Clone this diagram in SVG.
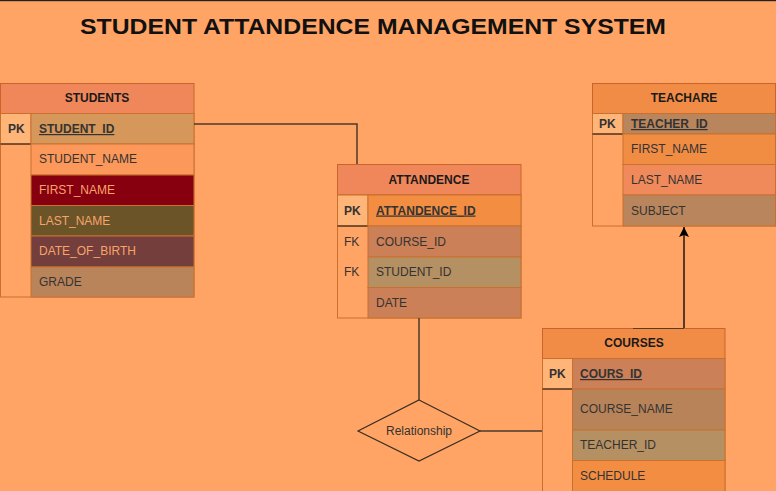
<svg xmlns="http://www.w3.org/2000/svg" width="776" height="491" viewBox="0 0 776 491">
<defs>
<style>
.bg{fill:#FFA464}
.hdr{stroke:#C9652A;stroke-width:1}
.row{stroke:#C9702F;stroke-width:1}
.ht{font-family:"Liberation Sans",Arial,sans-serif;font-size:12px;font-weight:bold;fill:#1a1a1a;text-anchor:middle}
.t{font-family:"Liberation Sans",Arial,sans-serif;font-size:12px;fill:#333}
.tl{font-family:"Liberation Sans",Arial,sans-serif;font-size:12px;fill:#F7A46C}
.k{font-family:"Liberation Sans",Arial,sans-serif;font-size:12px;fill:#333}
.kb{font-family:"Liberation Sans",Arial,sans-serif;font-size:12px;font-weight:bold;fill:#333}
.pk{font-family:"Liberation Sans",Arial,sans-serif;font-size:12px;font-weight:bold;fill:#333;text-decoration:underline}
.conn{fill:none;stroke:#4a3b2e;stroke-width:1.5}
</style>
<marker id="arr" markerWidth="10" markerHeight="10" refX="10" refY="5" orient="auto" markerUnits="userSpaceOnUse" viewBox="0 0 10 10">
<path d="M10,5 L0,0 L2,5 L0,10 Z" fill="#000"/>
</marker>
</defs>
<rect class="bg" x="0" y="0" width="776" height="491"/>
<rect x="0" y="0" width="776" height="1.2" fill="#222"/>
<text x="373" y="34" font-family="Liberation Sans,Arial,sans-serif" font-size="22" font-weight="bold" fill="#111" text-anchor="middle" textLength="586" lengthAdjust="spacingAndGlyphs">STUDENT ATTANDENCE MANAGEMENT SYSTEM</text>

<g id="students">
<rect x="0.5" y="83.5" width="193.5" height="30" fill="#F0875A" class="hdr"/>
<text class="ht" x="97" y="102">STUDENTS</text>
<rect x="0.5" y="113.5" width="193.5" height="183.5" fill="#FFA464" class="row"/>
<rect x="0.5" y="113.5" width="30.5" height="30.5" fill="#FFB478" class="row"/>
<line x1="0.5" y1="144" x2="31" y2="144" stroke="#111" stroke-width="1"/>
<text class="kb" x="8" y="133">PK</text>
<rect x="31" y="113.5" width="163" height="30.5" fill="#D5975A" class="row"/>
<text class="pk" x="39" y="133">STUDENT_ID</text>
<rect x="31" y="144" width="163" height="31" fill="#FC985A" class="row"/>
<text class="t" x="39" y="163">STUDENT_NAME</text>
<rect x="31" y="175" width="163" height="30.5" fill="#870010" class="row"/>
<text class="tl" x="39" y="194">FIRST_NAME</text>
<rect x="31" y="205.5" width="163" height="30.5" fill="#6B5428" class="row"/>
<text class="tl" x="39" y="224.5">LAST_NAME</text>
<rect x="31" y="236" width="163" height="31" fill="#733E3B" class="row"/>
<text class="tl" x="39" y="255">DATE_OF_BIRTH</text>
<rect x="31" y="267" width="163" height="30" fill="#BA845A" class="row"/>
<text class="t" x="39" y="286">GRADE</text>
</g>

<g id="attandence">
<rect x="337.5" y="164.5" width="183.5" height="30.5" fill="#F0875A" class="hdr"/>
<text class="ht" x="429" y="184">ATTANDENCE</text>
<rect x="337.5" y="195" width="183.5" height="123" fill="#FFA464" class="row"/>
<rect x="337.5" y="195" width="30.5" height="31" fill="#FFB478" class="row"/>
<line x1="337.5" y1="226" x2="368" y2="226" stroke="#111" stroke-width="1"/>
<text class="kb" x="344" y="214.5">PK</text>
<rect x="368" y="195" width="153" height="31" fill="#F28D42" class="row"/>
<text class="pk" x="376" y="214.5">ATTANDENCE_ID</text>
<rect x="368" y="226" width="153" height="31" fill="#CB8058" class="row"/>
<text class="k" x="344" y="245.5">FK</text>
<text class="t" x="376" y="245.5">COURSE_ID</text>
<rect x="368" y="257" width="153" height="30.5" fill="#B59063" class="row"/>
<text class="k" x="344" y="276">FK</text>
<text class="t" x="376" y="276">STUDENT_ID</text>
<rect x="368" y="287.5" width="153" height="30.5" fill="#CB8058" class="row"/>
<text class="t" x="376" y="306.5">DATE</text>
</g>

<g id="teachare">
<rect x="592.5" y="83.5" width="183" height="30" fill="#F08C46" class="hdr"/>
<text class="ht" x="684" y="102">TEACHARE</text>
<rect x="592.5" y="113.5" width="183" height="112.5" fill="#FFA464" class="row"/>
<rect x="592.5" y="113.5" width="30.5" height="20.5" fill="#FFB478" class="row"/>
<line x1="592.5" y1="134" x2="623" y2="134" stroke="#111" stroke-width="1"/>
<text class="kb" x="599" y="128">PK</text>
<rect x="623" y="113.5" width="152.5" height="20.5" fill="#B9855C" class="row"/>
<text class="pk" x="631" y="128">TEACHER_ID</text>
<rect x="623" y="134" width="152.5" height="30.5" fill="#F18C43" class="row"/>
<text class="t" x="631" y="153">FIRST_NAME</text>
<rect x="623" y="164.5" width="152.5" height="30.5" fill="#F08A5A" class="row"/>
<text class="t" x="631" y="183.5">LAST_NAME</text>
<rect x="623" y="195" width="152.5" height="31" fill="#B9855C" class="row"/>
<text class="t" x="631" y="214.5">SUBJECT</text>
</g>

<g id="courses">
<rect x="542.5" y="328.5" width="182.5" height="30" fill="#F08C46" class="hdr"/>
<text class="ht" x="634" y="347">COURSES</text>
<rect x="542.5" y="358.5" width="182.5" height="140" fill="#FFA464" class="row"/>
<rect x="542.5" y="358.5" width="30" height="30.5" fill="#FFB478" class="row"/>
<line x1="542.5" y1="389" x2="572.5" y2="389" stroke="#111" stroke-width="1"/>
<text class="kb" x="549" y="378">PK</text>
<rect x="572.5" y="358.5" width="152.5" height="30.5" fill="#CB8058" class="row"/>
<text class="pk" x="580" y="378">COURS_ID</text>
<rect x="572.5" y="389" width="152.5" height="41" fill="#B9835A" class="row"/>
<text class="t" x="580" y="413">COURSE_NAME</text>
<rect x="572.5" y="430" width="152.5" height="30.5" fill="#B59063" class="row"/>
<text class="t" x="580" y="449">TEACHER_ID</text>
<rect x="572.5" y="460.5" width="152.5" height="40" fill="#F28D42" class="row"/>
<text class="t" x="580" y="479.5">SCHEDULE</text>
</g>

<g id="relationship">
<polygon points="419,400 480,431 419,461 358,431" fill="#FFA464" stroke="#3a2e25" stroke-width="1.2"/>
<text x="419" y="435" font-family="Liberation Sans,Arial,sans-serif" font-size="12" fill="#333" text-anchor="middle">Relationship</text>
</g>

<g id="connectors">
<polyline class="conn" points="194,124 357,124 357,164"/>
<line class="conn" x1="419" y1="318" x2="419" y2="400"/>
<line class="conn" x1="480" y1="431" x2="542" y2="431"/>
<line x1="633" y1="328.5" x2="684" y2="328.5" stroke="#5a3a20" stroke-width="1"/>
<line x1="684" y1="328" x2="684" y2="227" stroke="#000" stroke-width="1.3" marker-end="url(#arr)"/>
</g>
</svg>
